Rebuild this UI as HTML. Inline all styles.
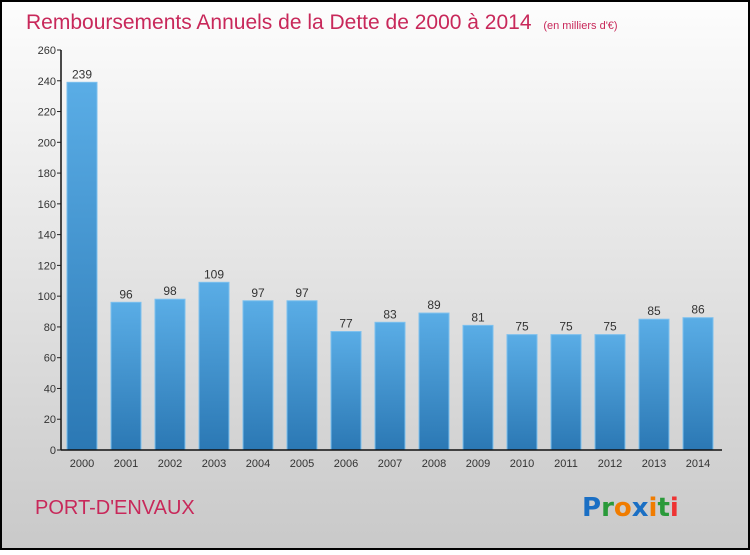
<!DOCTYPE html>
<html><head><meta charset="utf-8"><style>
html,body{margin:0;padding:0;}
body{width:750px;height:550px;overflow:hidden;font-family:"Liberation Sans",sans-serif;}
</style></head><body>
<svg id="chart" width="750" height="550" xmlns="http://www.w3.org/2000/svg">
<defs>
<linearGradient id="bg" x1="0" y1="0" x2="0" y2="1"><stop offset="0" stop-color="#fdfdfd"/><stop offset="1" stop-color="#c9c9c9"/></linearGradient>
<linearGradient id="bar" x1="0" y1="0" x2="0" y2="1"><stop offset="0" stop-color="#5aade6"/><stop offset="1" stop-color="#2b78b4"/></linearGradient>
</defs>
<rect x="1" y="1" width="748" height="548" fill="url(#bg)" stroke="#000" stroke-width="2"/>
<text x="26" y="29" font-size="21" fill="#c8285a" font-family="Liberation Sans, sans-serif">Remboursements Annuels de la Dette de 2000 à 2014 <tspan font-size="11" dx="6">(en milliers d'€)</tspan></text>
<text x="35" y="514" font-size="20" fill="#c8285a">PORT-D'ENVAUX</text>
<g font-size="26" font-weight="bold" font-family="DejaVu Sans, sans-serif">
<text x="582" y="516"><tspan fill="#1a6fc4">P</tspan><tspan fill="#2a9a3a">r</tspan><tspan fill="#f07c00">o</tspan><tspan fill="#1a6fc4">x</tspan><tspan fill="#f07c00">i</tspan><tspan fill="#2a9a3a">t</tspan><tspan fill="#e33">i</tspan></text>
</g>
<g id="plot"></g>
</svg>
<script>
const years=["2000","2001","2002","2003","2004","2005","2006","2007","2008","2009","2010","2011","2012","2013","2014"];
const values=[239,96,98,109,97,97,77,83,89,81,75,75,75,85,86];
const yTicks=[0,20,40,60,80,100,120,140,160,180,200,220,240,260];
const NS="http://www.w3.org/2000/svg";
const g=document.getElementById('plot');
const y0=450,yTop=50,yMax=260,x0=61,step=44,bw=30,firstX=67;
function yS(v){return y0-(v/yMax)*(y0-yTop);}
function xS(i){return firstX+i*step;}
function el(t,a,txt){const e=document.createElementNS(NS,t);for(const k in a)e.setAttribute(k,a[k]);if(txt!==undefined)e.textContent=txt;g.appendChild(e);return e;}
values.forEach((v,i)=>{
 const r=el('rect',{x:xS(i),y:yS(v),width:bw,height:y0-yS(v),fill:'url(#bar)',stroke:'#7cc0ee','stroke-width':1});
 
 
 const t=el('text',{x:xS(i)+bw/2,y:yS(v)-4,'text-anchor':'middle','font-size':12,fill:'#333'},String(v));
 
 
 const xl=el('text',{x:xS(i)+bw/2,y:467,'text-anchor':'middle','font-size':11,fill:'#333'},years[i]);
 
 
});
yTicks.forEach(v=>{
 const l=el('line',{x1:x0-4,x2:x0,y1:yS(v),y2:yS(v),stroke:'#222'});
 
 
 const t=el('text',{x:x0-5,y:yS(v)+4,'text-anchor':'end','font-size':11,fill:'#333'},String(v));
 
 
});
const ya=el('line',{x1:x0,x2:x0,y1:yTop,y2:y0,stroke:'#111','stroke-width':1.5});


const xa=el('line',{x1:x0,x2:722,y1:y0,y2:y0,stroke:'#111','stroke-width':1.5});


</script>
</body></html>
